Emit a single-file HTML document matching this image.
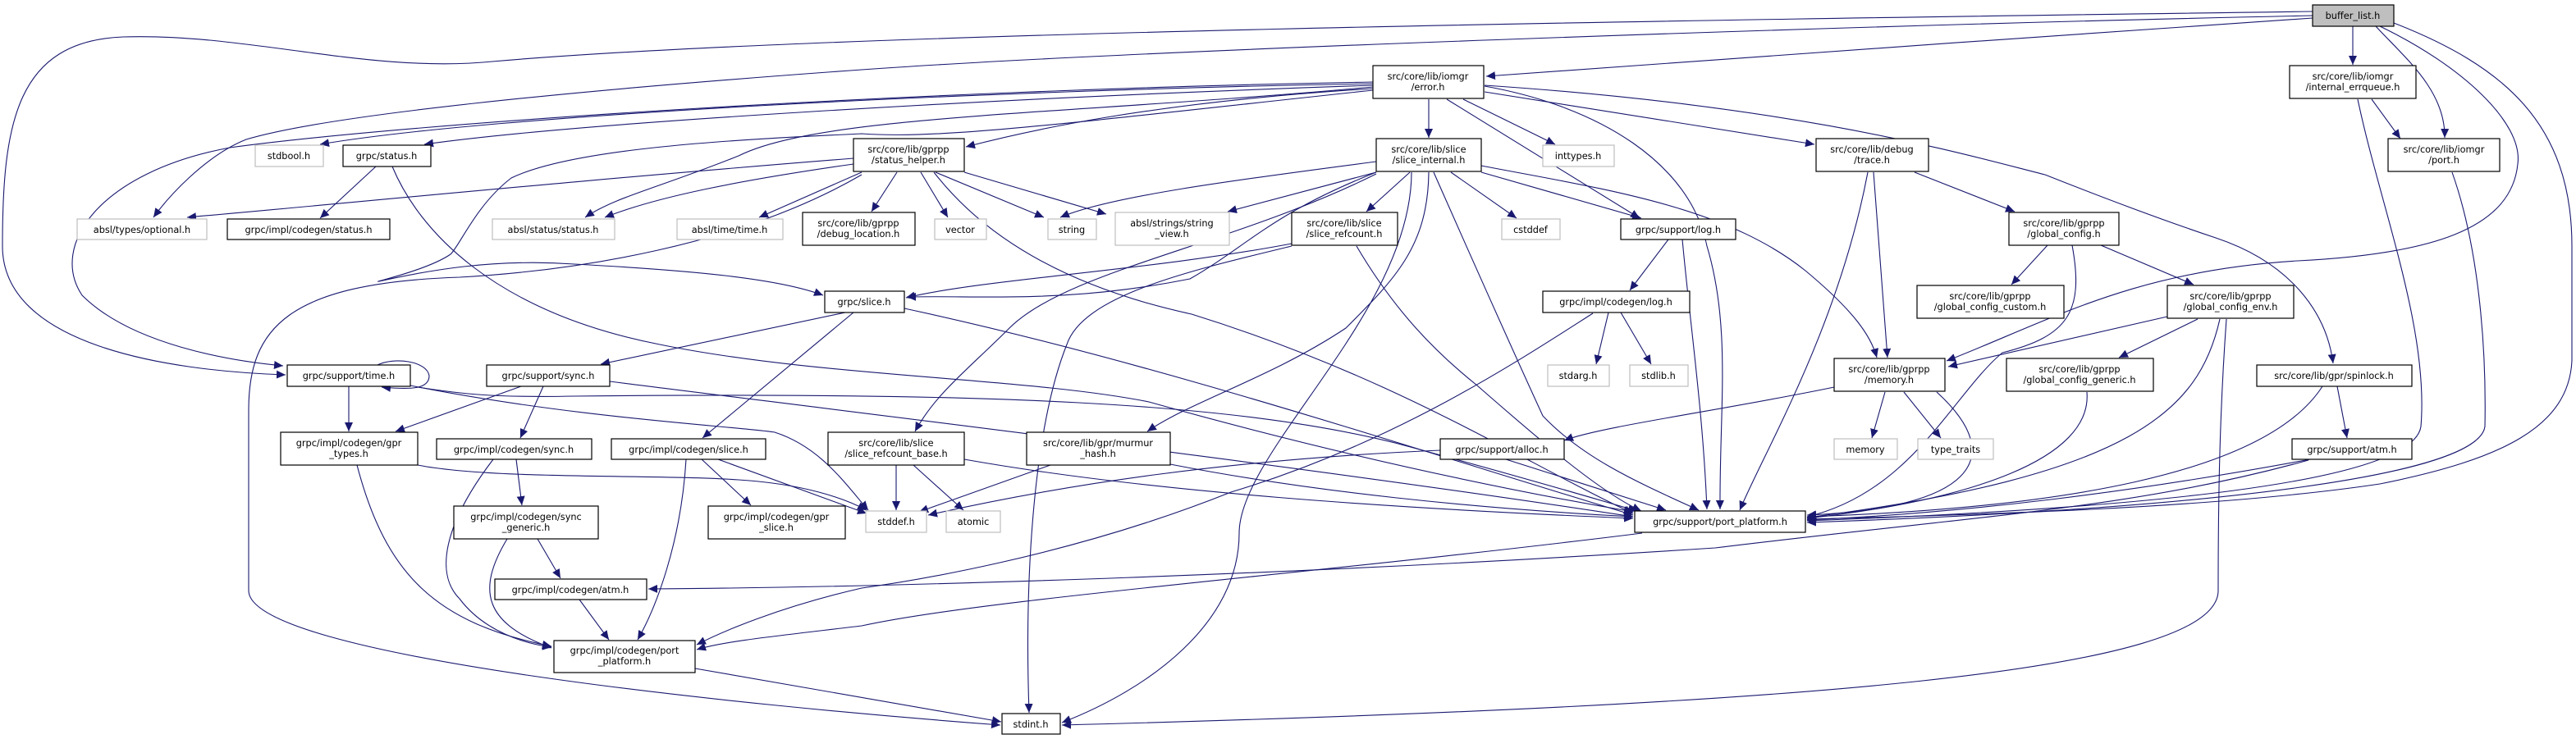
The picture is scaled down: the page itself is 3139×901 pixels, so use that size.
<!DOCTYPE html>
<html><head><meta charset="utf-8"><style>
html,body{margin:0;padding:0;background:#fff;}
svg{display:block;}
text{font-family:"DejaVu Sans","Liberation Sans",sans-serif;font-size:11.3px;fill:#000;text-anchor:middle;}
.n{fill:#fff;stroke:#000;stroke-width:1.2;}
.g{fill:#fff;stroke:#bfbfbf;stroke-width:1.2;}
.e{fill:none;stroke:#191970;stroke-width:1.1;marker-end:url(#a);}
</style></head><body>
<svg width="3139" height="901" viewBox="0 0 3139 901" xmlns="http://www.w3.org/2000/svg">
<defs><marker id="a" markerUnits="userSpaceOnUse" markerWidth="12" markerHeight="10" refX="11" refY="5" orient="auto"><path d="M0,0 L11,5 L0,10 z" fill="#191970"/></marker></defs>

<!-- edges -->
<g>
<!-- buffer_list -->
<path class="e" d="M2818,22 C2500,45 2100,70 1811,93"/>
<path class="e" d="M2818,14 C2000,25 1000,40 600,75 C450,90 300,40 150,45 C20,50 3,150 3,300 C3,420 200,452 348,457"/>
<path class="e" d="M2818,19 C2300,30 1400,60 1050,85 C700,110 400,140 300,170 C250,190 205,240 187,265"/>
<path class="e" d="M2867,32 L2867,79"/>
<path class="e" d="M2895,32 C2930,70 2980,110 2979,168"/>
<path class="e" d="M2900,32 C3000,80 3075,150 3068,200 C3060,280 2960,310 2800,318 C2600,330 2500,390 2372,440"/>
<path class="e" d="M2917,28 C3050,80 3134,150 3134,300 L3134,440 C3130,520 3050,560 2900,590 C2700,620 2400,628 2202,633"/>
<path class="e" d="M2873,121 C2900,250 2960,400 2950,520 C2940,590 2600,620 2202,635"/>
<path class="e" d="M2890,121 L2925,169"/>
<path class="e" d="M2988,210 C3020,300 3030,420 3028,520 C3020,580 2700,620 2202,637"/>
<!-- error.h -->
<path class="e" d="M1673,102 C1200,110 600,140 390,176"/>
<path class="e" d="M1673,104 C1200,120 700,150 517,176"/>
<path class="e" d="M1673,108 C1400,125 1250,160 1177,179"/>
<path class="e" d="M1673,100 C1100,110 500,150 280,180 C120,210 60,300 100,360 C160,420 280,440 345,446"/>
<path class="e" d="M1673,106 C1300,140 1000,140 900,190 C800,230 750,240 713,265"/>
<path class="e" d="M1673,110 C1300,150 1150,170 1050,163 C900,170 700,180 623,217 C580,250 560,300 549,310 C520,330 450,345 462,343 C520,330 600,315 700,322 C850,330 950,340 1003,360"/>
<path class="e" d="M1741,121 L1741,168"/>
<path class="e" d="M1783,121 L1895,176"/>
<path class="e" d="M1763,121 L1998,266"/>
<path class="e" d="M1809,105 C1950,130 2060,200 2080,300 C2110,400 2095,500 2096,621"/>
<path class="e" d="M1809,112 L2211,176"/>
<path class="e" d="M1809,104 C2200,130 2400,190 2492,213 C2560,240 2640,270 2700,290 C2790,320 2835,380 2843,443"/>
<!-- status_helper -->
<path class="e" d="M1040,193 C700,220 400,250 228,265"/>
<path class="e" d="M1040,200 C900,220 800,240 737,265"/>
<path class="e" d="M1050,210 L925,265"/>
<path class="e" d="M1093,210 L1062,258"/>
<path class="e" d="M1122,210 L1155,265"/>
<path class="e" d="M1140,210 L1272,265"/>
<path class="e" d="M1175,210 L1348,261"/>
<path class="e" d="M1138,210 C1200,290 1300,350 1452,383 C1700,460 1850,560 1990,626"/>
<path class="e" d="M1050,213 C900,300 700,330 560,338 C350,345 303,400 303,500 L303,720 C303,800 900,860 1219,884"/>
<!-- grpc/status.h -->
<path class="e" d="M458,203 L390,266"/>
<path class="e" d="M478,203 C510,280 600,380 804,420 C1000,460 1250,460 1400,490 C1650,560 1850,600 1990,624"/>
<!-- slice_internal -->
<path class="e" d="M1677,197 C1500,220 1350,240 1292,265"/>
<path class="e" d="M1677,210 L1496,258"/>
<path class="e" d="M1718,210 L1665,258"/>
<path class="e" d="M1768,210 L1848,266"/>
<path class="e" d="M1805,210 L2000,266"/>
<path class="e" d="M1677,210 C1550,260 1520,300 1450,340 C1300,370 1200,360 1105,362"/>
<path class="e" d="M1677,212 C1500,300 1300,330 1230,400 C1180,450 1140,480 1115,526"/>
<path class="e" d="M1741,210 C1740,300 1700,340 1640,400 C1550,460 1450,490 1398,526"/>
<path class="e" d="M1720,210 C1720,380 1510,550 1510,650 C1510,760 1400,840 1294,881"/>
<path class="e" d="M1747,210 C1800,330 1840,420 1880,507 C1930,560 2000,590 2070,622"/>
<path class="e" d="M1805,202 C1950,230 2100,250 2200,330 C2260,380 2280,410 2287,436"/>
<!-- slice_refcount -->
<path class="e" d="M1574,297 C1400,330 1200,340 1104,363"/>
<path class="e" d="M1574,300 C1450,330 1320,360 1300,420 C1260,520 1248,700 1254,869"/>
<path class="e" d="M1653,300 C1700,380 1750,430 1800,470 C1880,540 1950,600 2000,623"/>
<!-- grpc/slice.h -->
<path class="e" d="M1030,381 L732,444"/>
<path class="e" d="M1040,381 L856,534"/>
<path class="e" d="M1102,376 C1400,440 1700,540 1990,628"/>
<!-- support/log -->
<path class="e" d="M2033,292 L1986,354"/>
<path class="e" d="M2050,292 C2060,400 2075,500 2080,621"/>
<!-- codegen/log -->
<path class="e" d="M1960,381 L1945,444"/>
<path class="e" d="M1975,381 L2012,444"/>
<path class="e" d="M1941,382 C1850,440 1700,540 1500,600 C1300,680 1100,710 1050,717 C950,740 880,770 849,786"/>
<!-- trace -->
<path class="e" d="M2333,210 L2455,258"/>
<path class="e" d="M2283,210 L2300,436"/>
<path class="e" d="M2276,210 C2240,400 2150,550 2120,622"/>
<!-- global_config -->
<path class="e" d="M2495,299 L2451,347"/>
<path class="e" d="M2560,299 L2673,347"/>
<path class="e" d="M2525,299 C2540,380 2520,410 2440,430 C2380,480 2330,600 2202,630"/>
<!-- global_config_env -->
<path class="e" d="M2641,386 L2374,447"/>
<path class="e" d="M2678,389 L2582,436"/>
<path class="e" d="M2705,389 C2680,500 2600,580 2202,631"/>
<path class="e" d="M2713,389 C2705,500 2703,600 2703,720 C2703,820 2200,860 1294,884"/>
<path class="e" d="M2543,478 C2550,560 2400,610 2202,632"/>
<!-- memory.h -->
<path class="e" d="M2297,478 L2281,534"/>
<path class="e" d="M2320,478 L2365,534"/>
<path class="e" d="M2235,472 C2100,500 1950,520 1906,537"/>
<path class="e" d="M2360,478 C2450,560 2400,620 2202,628"/>
<!-- spinlock / atm -->
<path class="e" d="M2848,471 L2860,534"/>
<path class="e" d="M2830,471 C2760,580 2500,620 2202,630"/>
<path class="e" d="M2815,560 C2600,600 2400,625 2202,634"/>
<path class="e" d="M2813,561 C2600,620 2425,627 2090,668 C1600,700 1100,716 790,718"/>
<!-- alloc / murmur / refcount_base -->
<path class="e" d="M1755,549 C1500,560 1300,590 1131,628"/>
<path class="e" d="M1835,560 L2030,622"/>
<path class="e" d="M1280,567 L1120,624"/>
<path class="e" d="M1426,566 C1600,600 1800,620 1990,630"/>
<path class="e" d="M1092,567 L1092,622"/>
<path class="e" d="M1113,567 L1174,622"/>
<path class="e" d="M1175,560 C1400,600 1700,620 1990,632"/>
<!-- time.h -->
<path class="e" d="M425,471 L425,526"/>
<path class="e" d="M460,445 C480,435 520,440 523,458 C523,475 500,475 465,472"/>
<path class="e" d="M500,470 C700,510 900,520 944,527 C1000,545 1030,590 1058,622"/>
<path class="e" d="M509,472 C560,480 600,485 700,483 C1200,478 1500,490 1700,540 C1850,580 1950,610 1995,623"/>
<!-- grpc/support/sync.h -->
<path class="e" d="M635,471 L482,526"/>
<path class="e" d="M662,471 L634,534"/>
<path class="e" d="M743,465 C1100,510 1600,570 1990,630"/>
<!-- gpr_types -->
<path class="e" d="M509,567 C600,585 800,578 900,585 C980,590 1030,608 1056,622"/>
<path class="e" d="M435,567 C470,700 530,760 672,788"/>
<!-- codegen sync -->
<path class="e" d="M629,560 L636,616"/>
<path class="e" d="M601,560 C540,640 530,700 560,730 C590,770 640,785 672,789"/>
<!-- codegen slice -->
<path class="e" d="M855,560 L915,616"/>
<path class="e" d="M875,560 L1056,626"/>
<path class="e" d="M836,560 C830,660 800,740 777,780"/>
<!-- sync_generic -->
<path class="e" d="M655,657 L683,705"/>
<path class="e" d="M618,657 C580,720 590,760 672,790"/>
<path class="e" d="M706,731 L742,780"/>
<path class="e" d="M847,815 L1220,880"/>
<path class="e" d="M2001,650 C1600,700 1200,730 1050,763 C950,775 880,782 849,792"/>
</g>

<!-- nodes -->
<g>
<rect x="2818" y="6" width="99" height="26" fill="#bfbfbf" stroke="#000" stroke-width="1.2"/><text x="2867" y="23">buffer_list.h</text>

<rect class="n" x="1673" y="80" width="135" height="40"/><text x="1740" y="97">src/core/lib/iomgr</text><text x="1740" y="110">/error.h</text>
<rect class="n" x="2790" y="80" width="154" height="40"/><text x="2867" y="97">src/core/lib/iomgr</text><text x="2867" y="110">/internal_errqueue.h</text>
<rect class="n" x="2910" y="169" width="136" height="40"/><text x="2978" y="186">src/core/lib/iomgr</text><text x="2978" y="199">/port.h</text>
<rect class="n" x="2213" y="169" width="137" height="40"/><text x="2281" y="186">src/core/lib/debug</text><text x="2281" y="199">/trace.h</text>
<rect class="g" x="311" y="177" width="83" height="26"/><text x="352" y="194">stdbool.h</text>
<rect class="n" x="418" y="177" width="107" height="26"/><text x="471" y="194">grpc/status.h</text>
<rect class="n" x="1040" y="169" width="135" height="40"/><text x="1107" y="186">src/core/lib/gprpp</text><text x="1107" y="199">/status_helper.h</text>
<rect class="n" x="1677" y="169" width="128" height="40"/><text x="1741" y="186">src/core/lib/slice</text><text x="1741" y="199">/slice_internal.h</text>
<rect class="g" x="1880" y="177" width="87" height="26"/><text x="1923" y="194">inttypes.h</text>

<rect class="g" x="94" y="267" width="158" height="25"/><text x="173" y="284">absl/types/optional.h</text>
<rect class="n" x="277" y="267" width="198" height="25"/><text x="376" y="284">grpc/impl/codegen/status.h</text>
<rect class="g" x="600" y="267" width="149" height="25"/><text x="674" y="284">absl/status/status.h</text>
<rect class="g" x="825" y="267" width="129" height="25"/><text x="889" y="284">absl/time/time.h</text>
<rect class="n" x="978" y="259" width="137" height="40"/><text x="1046" y="276">src/core/lib/gprpp</text><text x="1046" y="289">/debug_location.h</text>
<rect class="g" x="1139" y="267" width="63" height="25"/><text x="1170" y="284">vector</text>
<rect class="g" x="1277" y="267" width="59" height="25"/><text x="1306" y="284">string</text>
<rect class="g" x="1359" y="259" width="139" height="40"/><text x="1428" y="276">absl/strings/string</text><text x="1428" y="289">_view.h</text>
<rect class="n" x="1574" y="259" width="129" height="40"/><text x="1638" y="276">src/core/lib/slice</text><text x="1638" y="289">/slice_refcount.h</text>
<rect class="g" x="1830" y="267" width="71" height="25"/><text x="1865" y="284">cstddef</text>
<rect class="n" x="1975" y="267" width="140" height="25"/><text x="2045" y="284">grpc/support/log.h</text>
<rect class="n" x="2448" y="259" width="134" height="40"/><text x="2515" y="276">src/core/lib/gprpp</text><text x="2515" y="289">/global_config.h</text>

<rect class="n" x="1005" y="355" width="97" height="26"/><text x="1053" y="372">grpc/slice.h</text>
<rect class="n" x="1880" y="355" width="179" height="26"/><text x="1969" y="372">grpc/impl/codegen/log.h</text>
<rect class="n" x="2336" y="348" width="179" height="40"/><text x="2425" y="365">src/core/lib/gprpp</text><text x="2425" y="378">/global_config_custom.h</text>
<rect class="n" x="2641" y="348" width="154" height="40"/><text x="2718" y="365">src/core/lib/gprpp</text><text x="2718" y="378">/global_config_env.h</text>

<rect class="n" x="350" y="445" width="150" height="26"/><text x="425" y="462">grpc/support/time.h</text>
<rect class="n" x="593" y="445" width="150" height="26"/><text x="668" y="462">grpc/support/sync.h</text>
<rect class="g" x="1886" y="445" width="75" height="26"/><text x="1923" y="462">stdarg.h</text>
<rect class="g" x="1986" y="445" width="71" height="26"/><text x="2021" y="462">stdlib.h</text>
<rect class="n" x="2235" y="437" width="135" height="40"/><text x="2302" y="454">src/core/lib/gprpp</text><text x="2302" y="467">/memory.h</text>
<rect class="n" x="2445" y="437" width="179" height="40"/><text x="2534" y="454">src/core/lib/gprpp</text><text x="2534" y="467">/global_config_generic.h</text>
<rect class="n" x="2750" y="445" width="189" height="26"/><text x="2844" y="462">src/core/lib/gpr/spinlock.h</text>

<rect class="n" x="342" y="527" width="167" height="40"/><text x="425" y="544">grpc/impl/codegen/gpr</text><text x="425" y="557">_types.h</text>
<rect class="n" x="532" y="535" width="189" height="25"/><text x="626" y="552">grpc/impl/codegen/sync.h</text>
<rect class="n" x="745" y="535" width="188" height="25"/><text x="839" y="552">grpc/impl/codegen/slice.h</text>
<rect class="n" x="1009" y="527" width="166" height="40"/><text x="1092" y="544">src/core/lib/slice</text><text x="1092" y="557">/slice_refcount_base.h</text>
<rect class="n" x="1251" y="527" width="175" height="40"/><text x="1338" y="544">src/core/lib/gpr/murmur</text><text x="1338" y="557">_hash.h</text>
<rect class="n" x="1755" y="535" width="151" height="25"/><text x="1830" y="552">grpc/support/alloc.h</text>
<rect class="g" x="2235" y="535" width="77" height="25"/><text x="2273" y="552">memory</text>
<rect class="g" x="2337" y="535" width="92" height="25"/><text x="2383" y="552">type_traits</text>
<rect class="n" x="2793" y="535" width="146" height="25"/><text x="2866" y="552">grpc/support/atm.h</text>

<rect class="n" x="553" y="617" width="176" height="40"/><text x="641" y="634">grpc/impl/codegen/sync</text><text x="641" y="647">_generic.h</text>
<rect class="n" x="863" y="617" width="167" height="40"/><text x="946" y="634">grpc/impl/codegen/gpr</text><text x="946" y="647">_slice.h</text>
<rect class="g" x="1055" y="623" width="74" height="26"/><text x="1092" y="640">stddef.h</text>
<rect class="g" x="1153" y="623" width="66" height="26"/><text x="1186" y="640">atomic</text>
<rect class="n" x="1992" y="623" width="208" height="26"/><text x="2096" y="640">grpc/support/port_platform.h</text>

<rect class="n" x="603" y="706" width="185" height="25"/><text x="695" y="723">grpc/impl/codegen/atm.h</text>
<rect class="n" x="675" y="781" width="172" height="39"/><text x="761" y="797">grpc/impl/codegen/port</text><text x="761" y="810">_platform.h</text>
<rect class="n" x="1221" y="870" width="71" height="25"/><text x="1256" y="887">stdint.h</text>
</g>
</svg>
</body></html>
